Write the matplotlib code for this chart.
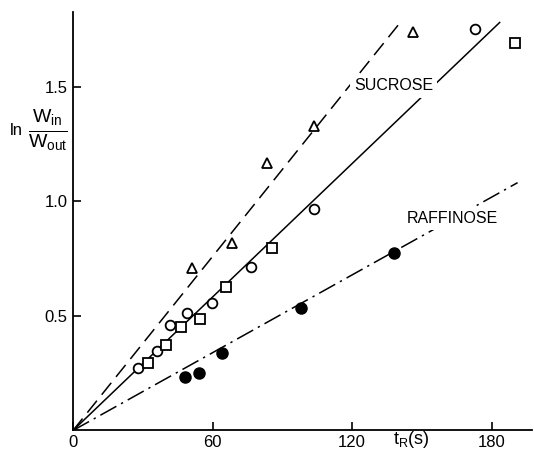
import numpy as np
import matplotlib.pyplot as plt

plt.rcParams['font.family'] = 'Liberation Sans'
plt.rcParams['mathtext.fontset'] = 'custom'
plt.rcParams['mathtext.rm'] = 'Liberation Sans'
plt.rcParams['mathtext.it'] = 'Liberation Sans'

tri_x = [51, 68.3, 83.3, 103.4, 146.1]
tri_y = [0.708, 0.82, 1.167, 1.327, 1.74]

circ_x = [28.1, 36.0, 41.6, 48.9, 59.7, 76.6, 103.4, 172.6]
circ_y = [0.274, 0.347, 0.459, 0.512, 0.555, 0.715, 0.966, 1.752]

sq_x = [32.1, 39.9, 46.5, 54.6, 65.7, 85.5, 189.8]
sq_y = [0.296, 0.372, 0.451, 0.487, 0.628, 0.796, 1.693]

raf_x = [48.3, 54.3, 63.9, 97.9, 137.8]
raf_y = [0.235, 0.250, 0.337, 0.533, 0.776]

# fitted line slopes and end points (x)
slope_dash, end_dash = 0.01266, 140.6
slope_solid, end_solid = 0.00971, 183.4
slope_dd, end_dd = 0.00566, 191.1

fig = plt.figure(figsize=(5.34, 4.54), dpi=100)
ax = fig.add_axes([0.1367, 0.0518, 0.86, 0.922])

lw = 1.1
xs = np.array([0, end_dash])
ax.plot(xs, slope_dash*xs, color='black', lw=lw, dashes=(10, 5))
xs = np.array([0, end_solid])
ax.plot(xs, slope_solid*xs, color='black', lw=lw)
xs = np.array([0, end_dd])
ax.plot(xs, slope_dd*xs, color='black', lw=lw, dashes=(12, 3.5, 1.5, 3.5))

ax.plot(tri_x, tri_y, ls='none', marker='^', ms=7, mfc='white', mec='black', mew=1.3)
ax.plot(circ_x, circ_y, ls='none', marker='o', ms=7, mfc='white', mec='black', mew=1.3)
ax.plot(sq_x, sq_y, ls='none', marker='s', ms=6.5, mfc='white', mec='black', mew=1.3)
ax.plot(raf_x, raf_y, ls='none', marker='o', ms=8, mfc='black', mec='black')

ax.text(137.8, 1.504, 'SUCROSE', ha='center', va='center', fontsize=11.5,
        bbox=dict(facecolor='white', edgecolor='none', pad=3))
ax.text(162.9, 0.927, 'RAFFINOSE', ha='center', va='center', fontsize=11.5,
        bbox=dict(facecolor='white', edgecolor='none', pad=3))

ax.set_xlim(0, 197.4)
ax.set_ylim(0, 1.827)
ax.set_xticks([0, 60, 120, 180])
ax.set_yticks([0.5, 1.0, 1.5])
ax.set_yticklabels(['0.5', '1.0', '1.5'])
ax.tick_params(direction='in', length=6, width=1.2, labelsize=12)
ax.tick_params(axis='y', pad=4)
ax.spines['top'].set_visible(False)
ax.spines['right'].set_visible(False)
ax.spines['left'].set_linewidth(1.3)
ax.spines['bottom'].set_linewidth(1.3)

fig.text(0.018, 0.713, 'ln', fontsize=12, va='center', ha='left')
fig.text(0.09, 0.713, r'$\frac{\mathrm{W_{in}}}{\mathrm{W_{out}}}$', fontsize=20,
         va='center', ha='center')
fig.text(0.771, 0.008, r'$\mathrm{t_R(s)}$', fontsize=13, ha='center', va='bottom')

fig.savefig('out.png', dpi=100)
